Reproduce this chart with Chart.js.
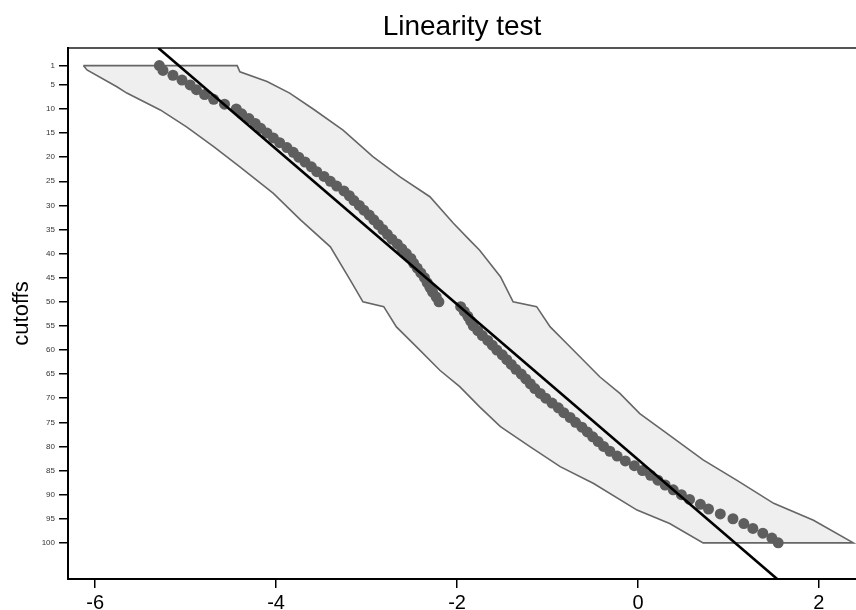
<!DOCTYPE html>
<html>
<head>
<meta charset="utf-8">
<script src="https://cdn.jsdelivr.net/npm/chart.js@4/dist/chart.umd.min.js"></script>
<style>
  html, body { margin: 0; padding: 0; background: #fff; }
  #wrap { width: 856px; height: 610px; }
</style>
</head>
<body>
<div id="wrap"><canvas id="c" width="856" height="610"></canvas></div>
<script>
// ---- data ----
const cutoffs = [1,2,3,4,5,6,7,8,9,10,11,12,13,14,15,16,17,18,19,20,
  21,22,23,24,25,26,27,28,29,30,31,32,33,34,35,36,37,38,39,40,
  41,42,43,44,45,46,47,48,49,50,51,52,53,54,55,56,57,58,59,60,
  61,62,63,64,65,66,67,68,69,70,71,72,73,74,75,76,77,78,79,80,
  81,82,83,84,85,86,87,88,89,90,91,92,93,94,95,96,97,98,99,100];

const pointX = [-5.29,-5.25,-5.14,-5.04,-4.95,-4.88,-4.79,-4.69,-4.57,-4.44,
  -4.38,-4.30,-4.23,-4.17,-4.10,-4.03,-3.96,-3.88,-3.81,-3.75,
  -3.68,-3.61,-3.55,-3.47,-3.40,-3.33,-3.25,-3.19,-3.14,-3.08,
  -3.03,-2.97,-2.92,-2.87,-2.82,-2.77,-2.72,-2.66,-2.61,-2.56,
  -2.51,-2.48,-2.44,-2.40,-2.36,-2.33,-2.30,-2.27,-2.23,-2.20,
  -1.96,-1.92,-1.88,-1.85,-1.82,-1.77,-1.72,-1.66,-1.61,-1.56,
  -1.50,-1.45,-1.40,-1.35,-1.29,-1.24,-1.19,-1.14,-1.08,-1.02,
  -0.95,-0.88,-0.82,-0.75,-0.69,-0.62,-0.56,-0.50,-0.44,-0.38,
  -0.31,-0.23,-0.14,-0.04,0.05,0.14,0.22,0.30,0.39,0.48,
  0.57,0.69,0.78,0.91,1.05,1.17,1.27,1.38,1.48,1.55];

const bandLowX  = [-6.13,-6.09,-5.76,-5.65,-5.28,-4.99,-4.69,-4.40,-4.03,-3.73,-3.40,-3.18,-3.04,-2.81,-2.67,-2.45,-2.19,-1.97,-1.75,-1.52,-1.19,-0.86,-0.49,-0.01,0.35,0.72];
const bandLowY  = [1,1.9,5.4,6.7,10.2,13.7,17.8,22,27.5,33,38.6,45.5,50,51,55.2,59.3,64.2,67.6,71.8,75.9,80.1,84.2,87.7,93.2,96,100];
const bandHighX = [-4.43,-4.40,-4.10,-3.85,-3.59,-3.26,-2.93,-2.63,-2.30,-2.04,-1.86,-1.75,-1.52,-1.38,-1.12,-0.97,-0.79,-0.42,-0.20,0.02,0.32,0.72,1.09,1.50,1.94,2.38];
const bandHighY = [1,2.3,4.3,6.7,10,14.4,19.9,24.1,28.2,33.7,37.2,39.3,44.8,50,51,55.2,58.6,65.6,69,73.2,77.3,82.8,87,91.8,95.3,100];

const fitIntercept = -5.137;
const fitSlope = 0.0621;

const xTickValues = [-6, -4, -2, 0, 2];
const yTickValues = [1,5,10,15,20,25,30,35,40,45,50,55,60,65,70,75,80,85,90,95,100];
const xMin = -6.3, xMax = 2.41;
const yMin = -2.65, yMax = 107.5;

// ---- build datasets ----
const pts = cutoffs.map((c, i) => ({ x: pointX[i], y: c }));
const poly = [];
bandLowX.forEach((x, i) => poly.push({ x: x, y: bandLowY[i] }));
for (let i = bandHighX.length - 1; i >= 0; i--) poly.push({ x: bandHighX[i], y: bandHighY[i] });
poly.push({ x: bandLowX[0], y: bandLowY[0] });
const fit = [yMin, yMax].map(y => ({ x: fitIntercept + fitSlope * y, y: y }));

const FONT = "'Liberation Sans', Arial, Helvetica, sans-serif";

new Chart(document.getElementById('c'), {
  type: 'scatter',
  data: {
    datasets: [
      { type: 'line', data: poly, order: 3, borderColor: '#666666', borderWidth: 1.6,
        backgroundColor: '#efefef', fill: 'shape', pointRadius: 0, tension: 0 },
      { type: 'scatter', data: pts, order: 2, pointRadius: 5.5, pointHoverRadius: 5.5,
        backgroundColor: '#5e5e5e', borderWidth: 0 },
      { type: 'line', data: fit, order: 1, borderColor: '#000000', borderWidth: 2.6,
        pointRadius: 0, fill: false }
    ]
  },
  options: {
    responsive: false,
    animation: false,
    layout: { padding: 0, autoPadding: false },
    plugins: {
      legend: { display: false },
      tooltip: { enabled: false },
      title: {
        display: true, text: 'Linearity test', color: '#000', fullSize: false,
        font: { family: FONT, size: 28, weight: 'normal' },
        padding: { top: 10.8, bottom: 3.6 }
      }
    },
    scales: {
      x: {
        type: 'linear', position: 'bottom', min: xMin, max: xMax,
        afterBuildTicks: a => { a.ticks = xTickValues.map(v => ({ value: v })); },
        afterFit: a => { a.height = 31; a.paddingLeft = 0; a.paddingRight = 0; },
        ticks: { color: '#000', font: { family: FONT, size: 20 }, padding: 3, maxRotation: 0 },
        grid: { drawOnChartArea: false, drawTicks: true, tickLength: 9, color: '#000', lineWidth: 1.5 },
        border: { display: true, color: '#000', width: 2 }
      },
      xTop: {
        type: 'linear', position: 'top', min: xMin, max: xMax,
        afterFit: a => { a.height = 0; a.paddingLeft = 0; a.paddingRight = 0; },
        ticks: { display: false },
        grid: { display: false, drawTicks: false },
        border: { display: true, color: '#555', width: 2 }
      },
      y: {
        type: 'linear', position: 'left', min: yMin, max: yMax, reverse: true,
        afterBuildTicks: a => { a.ticks = yTickValues.map(v => ({ value: v })); },
        afterFit: a => { a.width = 68; a.paddingTop = 0; a.paddingBottom = 0; },
        ticks: { color: '#333', font: { family: FONT, size: 8 }, padding: 4, autoSkip: false },
        grid: { drawOnChartArea: false, drawTicks: true, tickLength: 9, color: '#000', lineWidth: 1.5 },
        border: { display: true, color: '#000', width: 2 },
        title: { display: true, text: 'cutoffs', color: '#000',
          font: { family: FONT, size: 22 }, padding: { top: 9, bottom: 0 } }
      }
    }
  }
});
</script>
</body>
</html>
